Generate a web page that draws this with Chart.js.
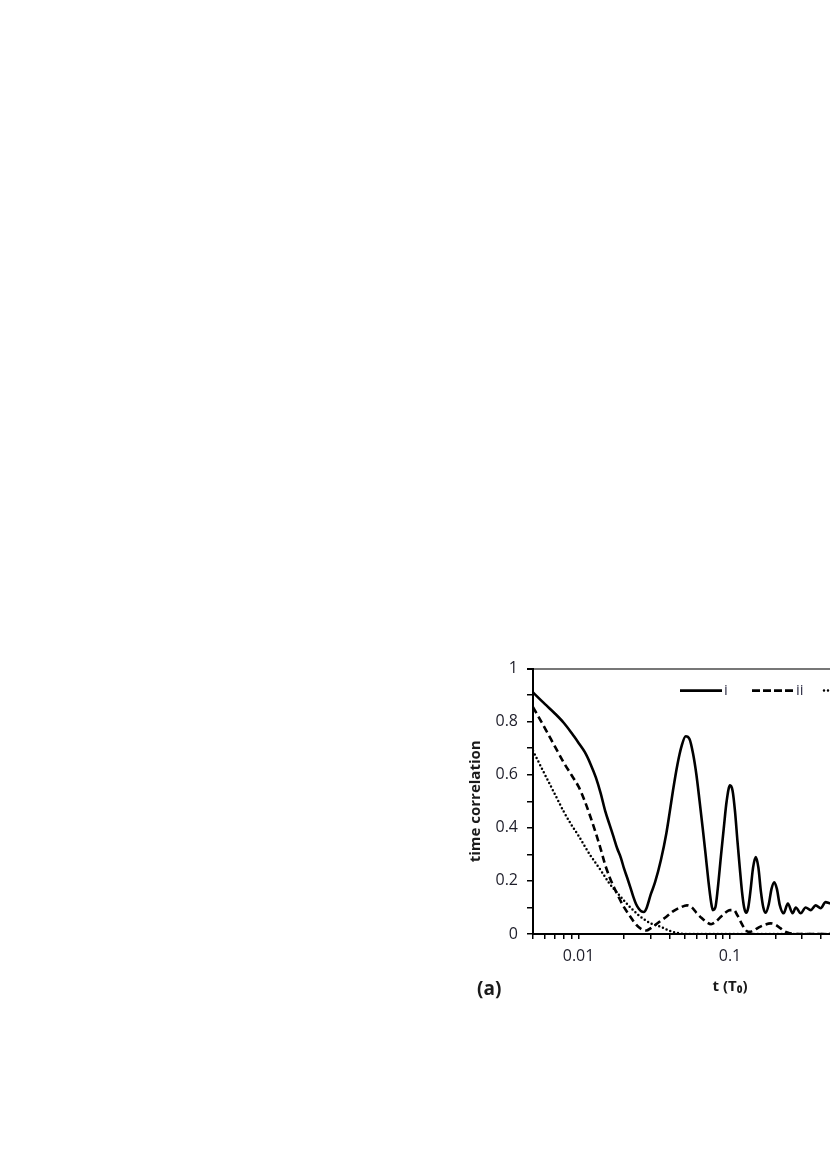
<!DOCTYPE html>
<html>
<head>
<meta charset="utf-8">
<script src="https://cdn.jsdelivr.net/npm/chart.js@4"></script>
<style>
  html, body { margin: 0; padding: 0; background: #fff; width: 830px; height: 1174px; overflow: hidden; }
  #wrap { position: absolute; left: 450px; top: 650px; width: 500px; height: 360px; }
  #panel { position: absolute; left: 477px; top: 977px; font: bold 19px "Open Sans", sans-serif; color: #1a1a1a; line-height: 22px; }
</style>
</head>
<body>
<div id="wrap"><canvas id="corr" width="500" height="360"></canvas></div>
<div id="panel">(a)</div>
<script>
// curve i (solid)
const tI = [0.005, 0.006, 0.007, 0.008, 0.009, 0.01, 0.011, 0.012, 0.013, 0.014, 0.015, 0.016, 0.017, 0.018, 0.019, 0.02,
  0.021, 0.022, 0.023, 0.024, 0.025, 0.026, 0.027, 0.028, 0.03, 0.032, 0.035, 0.038, 0.04, 0.042, 0.045, 0.048, 0.051,
  0.054, 0.057, 0.06, 0.063, 0.066, 0.069, 0.072, 0.075, 0.077, 0.08, 0.083, 0.087, 0.091, 0.095, 0.1, 0.104, 0.108,
  0.112, 0.116, 0.12, 0.124, 0.128, 0.132, 0.137, 0.142, 0.148, 0.154, 0.16, 0.166, 0.172, 0.18, 0.188, 0.196, 0.204,
  0.213, 0.226, 0.241, 0.259, 0.272, 0.293, 0.316, 0.341, 0.368, 0.397, 0.428, 0.462, 0.5, 0.54, 0.58, 0.63, 0.68,
  0.74, 0.8, 0.87, 0.94, 1.0, 1.2, 1.5, 2.0];
const valI = [0.91, 0.866, 0.83, 0.795, 0.757, 0.72, 0.685, 0.64, 0.59, 0.53, 0.463, 0.413, 0.367, 0.322, 0.288, 0.245,
  0.21, 0.175, 0.14, 0.112, 0.095, 0.085, 0.083, 0.095, 0.15, 0.195, 0.28, 0.38, 0.46, 0.54, 0.64, 0.71, 0.745,
  0.735, 0.68, 0.6, 0.5, 0.4, 0.3, 0.2, 0.12, 0.09, 0.1, 0.17, 0.29, 0.4, 0.5, 0.56, 0.54, 0.46,
  0.35, 0.25, 0.16, 0.1, 0.08, 0.1, 0.17, 0.25, 0.29, 0.25, 0.16, 0.1, 0.08, 0.11, 0.17, 0.195, 0.17,
  0.11, 0.078, 0.115, 0.078, 0.1, 0.078, 0.1, 0.09, 0.108, 0.097, 0.12, 0.115, 0.125, 0.11, 0.13, 0.115, 0.13,
  0.12, 0.135, 0.12, 0.13, 0.12, 0.13, 0.12, 0.13];

// curve ii (dashed)
const tII = [0.005, 0.006, 0.007, 0.008, 0.009, 0.01, 0.011, 0.012, 0.013, 0.014, 0.015, 0.016, 0.018, 0.02, 0.022,
  0.024, 0.026, 0.028, 0.03, 0.034, 0.038, 0.042, 0.047, 0.052, 0.056, 0.06, 0.065, 0.07, 0.075, 0.08, 0.087, 0.094,
  0.1, 0.106, 0.112, 0.118, 0.125, 0.132, 0.14, 0.155, 0.17, 0.185, 0.2, 0.215, 0.23, 0.245, 0.26, 0.3, 0.5, 1.0, 2.0];
const valII = [0.855, 0.775, 0.705, 0.645, 0.598, 0.555, 0.5, 0.44, 0.38, 0.32, 0.26, 0.215, 0.15, 0.1, 0.065,
  0.035, 0.018, 0.013, 0.022, 0.045, 0.065, 0.085, 0.1, 0.108, 0.1, 0.08, 0.06, 0.045, 0.037, 0.045, 0.065, 0.082,
  0.09, 0.09, 0.07, 0.045, 0.02, 0.008, 0.01, 0.025, 0.035, 0.04, 0.035, 0.022, 0.01, 0.004, 0.0, 0.0, 0.0, 0.0, 0.0];

// curve iii (dotted)
const tIII = [0.005, 0.006, 0.007, 0.008, 0.009, 0.01, 0.011, 0.012, 0.014, 0.016, 0.018, 0.02, 0.022, 0.025, 0.028,
  0.03, 0.035, 0.04, 0.045, 0.05, 0.1, 0.5, 1.0, 2.0];
const valIII = [0.69, 0.6, 0.525, 0.46, 0.41, 0.37, 0.33, 0.295, 0.24, 0.19, 0.155, 0.125, 0.1, 0.07, 0.05,
  0.04, 0.027, 0.012, 0.004, 0.0, 0.0, 0.0, 0.0, 0.0];

const seriesNames = ["i", "ii", "iii"];

const xTicks = [0.005, 0.006, 0.007, 0.008, 0.009, 0.01, 0.02, 0.03, 0.04, 0.05, 0.06, 0.07, 0.08, 0.09,
  0.1, 0.2, 0.3, 0.4, 0.5, 0.6, 0.7, 0.8, 0.9, 1, 2];
const xLabelValues = [0.01, 0.1, 1];

const toPoints = (ts, vs) => ts.map((t, k) => ({ x: t, y: vs[k] }));

const insideLegend = {
  id: "insideLegend",
  afterDraw(chart) {
    const ctx = chart.ctx;
    const area = chart.chartArea;
    chart.data.datasets.forEach((ds, k) => {
      const x0 = area.left + 147 + k * 72;
      const y = area.top + 22;
      ctx.save();
      ctx.strokeStyle = ds.borderColor;
      ctx.lineWidth = ds.borderWidth;
      ctx.lineCap = ds.borderCapStyle || "butt";
      ctx.setLineDash(ds.legendDash || []);
      ctx.beginPath();
      ctx.moveTo(x0, y);
      ctx.lineTo(x0 + 42, y);
      ctx.stroke();
      ctx.setLineDash([]);
      ctx.fillStyle = "#33334a";
      ctx.font = '15px "Open Sans"';
      ctx.textBaseline = "middle";
      ctx.fillText(ds.label, x0 + 44, y);
      ctx.restore();
    });
  }
};

new Chart(document.getElementById("corr"), {
  type: "line",
  data: {
    datasets: [
      {
        label: seriesNames[0],
        data: toPoints(tI, valI),
        borderColor: "#000",
        borderWidth: 2.6,
        legendDash: [],
        pointRadius: 0,
        cubicInterpolationMode: "monotone",
        fill: false
      },
      {
        label: seriesNames[1],
        data: toPoints(tII, valII),
        borderColor: "#000",
        borderWidth: 2.6,
        borderDash: [7, 4],
        legendDash: [8, 3],
        pointRadius: 0,
        cubicInterpolationMode: "monotone",
        fill: false
      },
      {
        label: seriesNames[2],
        data: toPoints(tIII, valIII),
        borderColor: "#000",
        borderWidth: 2.5,
        borderDash: [0, 4],
        legendDash: [0, 4],
        borderCapStyle: "round",
        pointRadius: 0,
        cubicInterpolationMode: "monotone",
        fill: false
      }
    ]
  },
  options: {
    responsive: false,
    animation: false,
    layout: { padding: { top: 15, right: 23, bottom: 0, left: 0 } },
    plugins: {
      legend: { display: false },
      tooltip: { enabled: false }
    },
    scales: {
      x: {
        type: "logarithmic",
        min: 0.005,
        max: 2,
        afterBuildTicks: scale => { scale.ticks = xTicks.map(v => ({ value: v })); },
        afterFit: scale => { scale.height = 76; },
        border: { display: true, color: "#000", width: 2 },
        grid: { display: true, drawOnChartArea: false, drawTicks: true, tickLength: 5, tickColor: "#000", lineWidth: 1.5 },
        ticks: {
          autoSkip: false,
          maxRotation: 0,
          padding: 8,
          color: "#1e1e2a",
          font: { family: "Open Sans", size: 16 },
          callback: value => xLabelValues.includes(value) ? String(value) : ""
        },
        title: {
          display: true,
          text: "t (T\u2080)",
          color: "#1a1a1a",
          font: { family: "Open Sans", size: 15, weight: "bold" },
          padding: { top: 4, bottom: 14 }
        }
      },
      y: {
        min: 0,
        max: 1,
        afterFit: scale => { scale.width = 83; },
        border: { display: true, color: "#000", width: 2 },
        grid: {
          display: true,
          drawOnChartArea: true,
          drawTicks: true,
          tickLength: 6,
          tickColor: "#000",
          lineWidth: ctx => (ctx.tick && Math.abs(ctx.tick.value - 1) < 1e-6) ? 2 : 1.5,
          color: ctx => (ctx.tick && Math.abs(ctx.tick.value - 1) < 1e-6) ? "#777" : "rgba(0,0,0,0)"
        },
        ticks: {
          stepSize: 0.1,
          padding: 9,
          color: "#1e1e2a",
          font: { family: "Open Sans", size: 16 },
          callback: value => {
            const r = Math.round(value * 10);
            return r % 2 === 0 ? String(r / 10) : "";
          }
        },
        title: {
          display: true,
          text: "time correlation",
          color: "#1a1a1a",
          font: { family: "Open Sans", size: 15, weight: "bold" },
          padding: { top: 17, bottom: 0 }
        }
      }
    }
  },
  plugins: [insideLegend]
});
</script>
</body>
</html>
